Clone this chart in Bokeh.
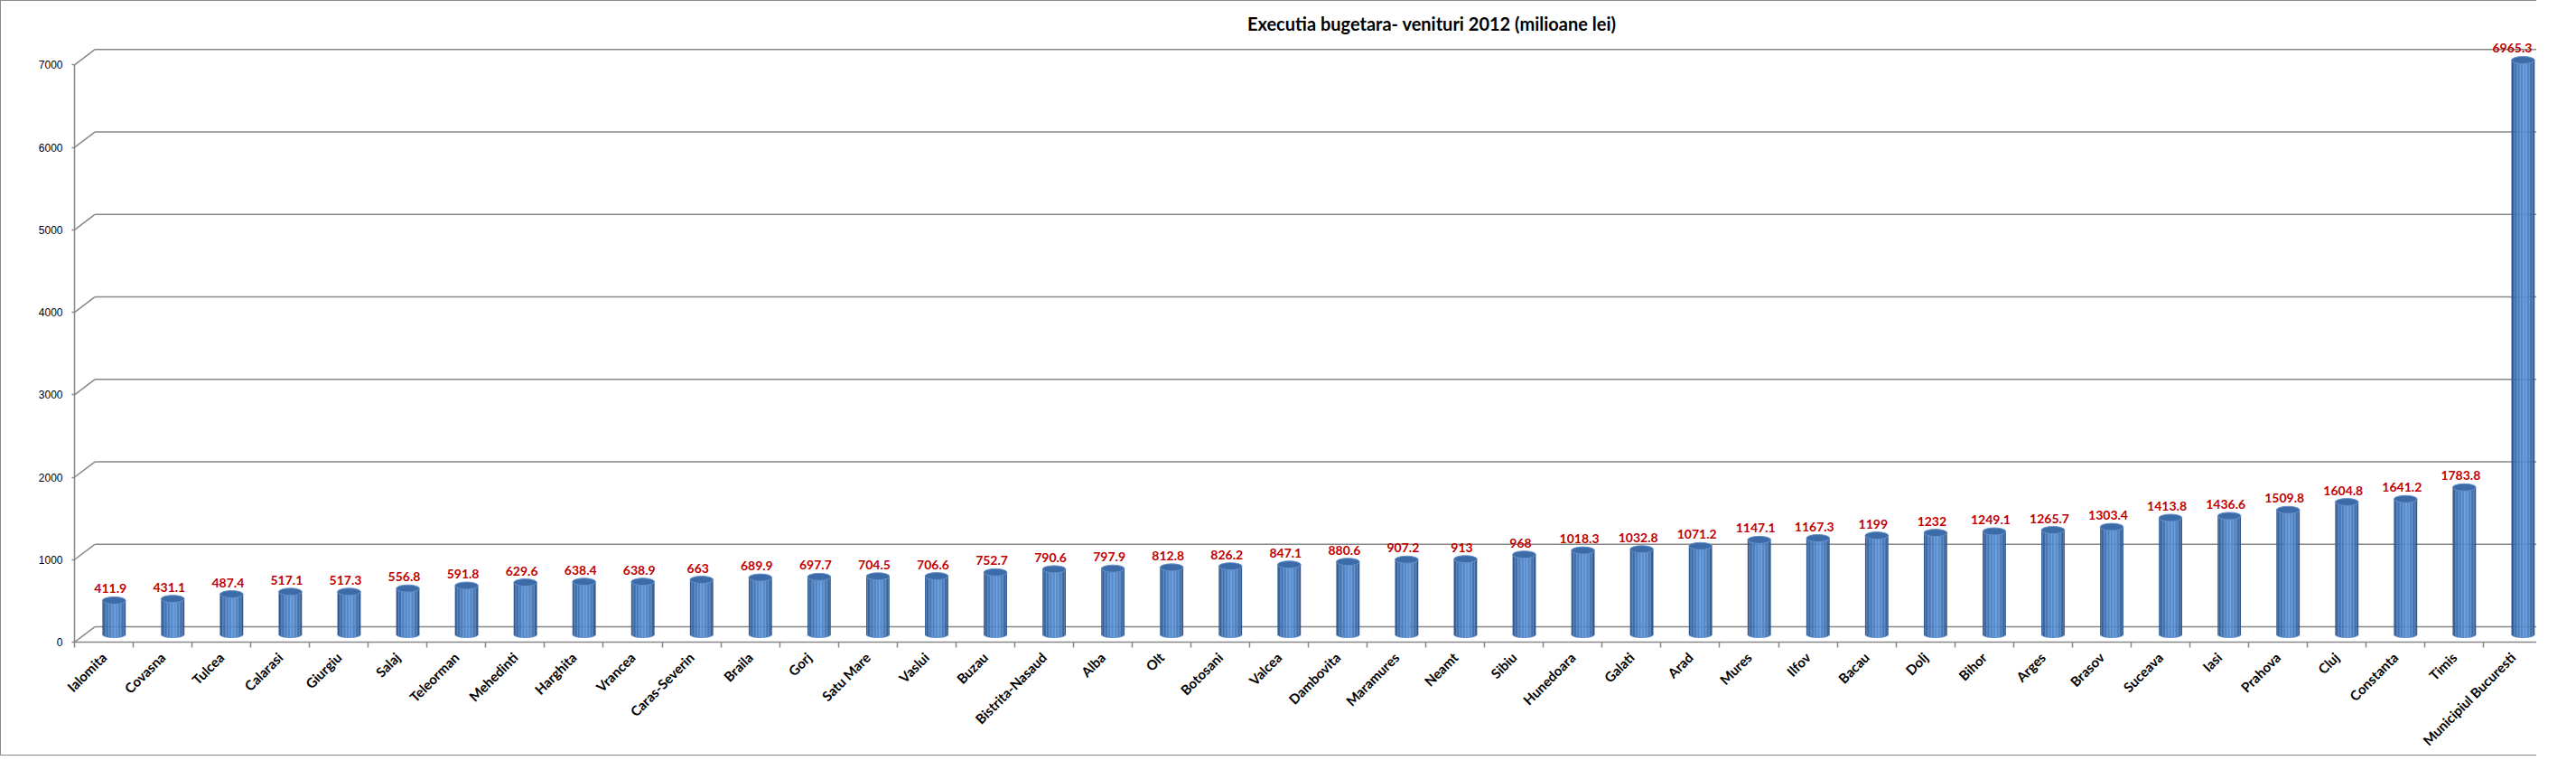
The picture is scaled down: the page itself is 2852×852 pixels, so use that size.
import numpy as np
from math import pi
from bokeh.plotting import figure
from bokeh.models import Range1d, FixedTicker, Label
from bokeh.embed import file_html
from bokeh.resources import INLINE
from bokeh.core.properties import value

# ---------------- data ----------------
judete = ["Ialomita", "Covasna", "Tulcea", "Calarasi", "Giurgiu", "Salaj", "Teleorman",
          "Mehedinti", "Harghita", "Vrancea", "Caras-Severin", "Braila", "Gorj", "Satu Mare",
          "Vaslui", "Buzau", "Bistrita-Nasaud", "Alba", "Olt", "Botosani", "Valcea",
          "Dambovita", "Maramures", "Neamt", "Sibiu", "Hunedoara", "Galati", "Arad", "Mures",
          "Ilfov", "Bacau", "Dolj", "Bihor", "Arges", "Brasov", "Suceava", "Iasi", "Prahova",
          "Cluj", "Constanta", "Timis", "Municipiul Bucuresti"]
venituri = [411.9, 431.1, 487.4, 517.1, 517.3, 556.8, 591.8, 629.6, 638.4, 638.9, 663,
            689.9, 697.7, 704.5, 706.6, 752.7, 790.6, 797.9, 812.8, 826.2, 847.1, 880.6,
            907.2, 913, 968, 1018.3, 1032.8, 1071.2, 1147.1, 1167.3, 1199, 1232, 1249.1,
            1265.7, 1303.4, 1413.8, 1436.6, 1509.8, 1604.8, 1641.2, 1783.8, 6965.3]
y_ticks = [0, 1000, 2000, 3000, 4000, 5000, 6000, 7000]
titlu = "Executia bugetara- venituri 2012 (milioane lei)"

# ---------------- geometry / style ----------------
X_END = 41.92          # visible category span (chart is cropped on the right)
PX_PER_Y = 0.0915      # pixels per data unit (vertical)
TOP_BORDER = 5
Y_TOP = (711 - TOP_BORDER) / PX_PER_Y
DEPTH_X = 0.345        # 3D depth offset (x, in category units)
DEPTH_Y = 186          # 3D depth offset (y, in data units)
BASE = DEPTH_Y / 2     # cylinders stand in the middle of the floor
BAR_W = 0.395
ELL_H = 8              # ellipse height in px
GRID = "#878787"

p = figure(width=2808, height=836, x_range=Range1d(0, X_END), y_range=Range1d(0, Y_TOP),
           output_backend="svg", toolbar_location=None, title=None,
           min_border_left=81, min_border_right=0, min_border_top=TOP_BORDER,
           min_border_bottom=125)
p.outline_line_color = None
p.xgrid.grid_line_color = None
p.ygrid.grid_line_color = None
p.background_fill_color = "white"
p.border_fill_color = "white"
p.styles = {"border-left": "1px solid #8a8a8a", "border-top": "1px solid #8a8a8a",
            "border-bottom": "1px solid #8a8a8a"}

n = len(judete)
centers = np.arange(n) + 0.5
bounds = list(np.arange(0, n + 1).astype(float))
vals = np.array(venituri, dtype=float)

# ---------------- axes ----------------
xa = p.xaxis[0]
xa.ticker = FixedTicker(ticks=list(centers), minor_ticks=bounds)
xa.major_label_overrides = {float(c): nm for c, nm in zip(centers, judete)}
xa.major_label_orientation = pi / 4
xa.major_tick_line_color = None
xa.major_tick_out = 6
xa.minor_tick_line_color = GRID
xa.minor_tick_out = 6
xa.minor_tick_in = 0
xa.minor_tick_line_width = 1.5
xa.axis_line_color = GRID
xa.axis_line_width = 1.5
xa.major_label_standoff = 8
xa.major_label_text_font = "Lato"
xa.major_label_text_font_style = "bold"
xa.major_label_text_font_size = "15px"
xa.major_label_text_color = "#000000"

ya = p.yaxis[0]
ya.ticker = FixedTicker(ticks=y_ticks, minor_ticks=[])
ya.bounds = (y_ticks[0], y_ticks[-1])
ya.axis_line_color = GRID
ya.axis_line_width = 1.5
ya.major_tick_line_color = GRID
ya.major_tick_line_width = 1.5
ya.major_tick_out = 3
ya.major_tick_in = 0
ya.minor_tick_line_color = None
ya.major_label_standoff = 10
ya.major_label_text_font = "Liberation Sans"
ya.major_label_text_font_size = "12px"
ya.major_label_text_font_style = "normal"
ya.major_label_text_color = "#000000"

# ---------------- 3D back wall grid + side connectors ----------------
yt = np.array(y_ticks, dtype=float)
p.segment(x0=[DEPTH_X] * len(yt), y0=yt + DEPTH_Y, x1=[X_END] * len(yt), y1=yt + DEPTH_Y,
          line_color=GRID, line_width=1.5)
p.segment(x0=[0] * len(yt), y0=yt, x1=[DEPTH_X] * len(yt), y1=yt + DEPTH_Y,
          line_color=GRID, line_width=1.5)

# ---------------- cylinders ----------------
def hex2rgb(h):
    h = h.lstrip("#")
    return np.array([int(h[i:i + 2], 16) for i in (0, 2, 4)], dtype=float)

stops = [(0.0, "#2C568C"), (0.12, "#3A69A7"), (0.35, "#4C83C6"), (0.58, "#5990D3"),
         (0.78, "#4B7DBE"), (0.92, "#3A659F"), (1.0, "#2A4E80")]

def shade(u):
    for (u0, c0), (u1, c1) in zip(stops[:-1], stops[1:]):
        if u0 <= u <= u1:
            t = (u - u0) / (u1 - u0)
            c = hex2rgb(c0) * (1 - t) + hex2rgb(c1) * t
            return "#%02x%02x%02x" % tuple(int(round(v)) for v in c)
    return stops[-1][1]

xc = centers + DEPTH_X / 2
N = 18
for k in range(N):
    u = (k + 0.5) / N
    ext = (ELL_H / 2) * np.sqrt(max(0.0, 1 - (2 * u - 1) ** 2)) / PX_PER_Y
    p.vbar(x=xc + (u - 0.5) * BAR_W, width=BAR_W / N * 1.08,
           bottom=BASE - ext, top=vals + BASE,
           fill_color=shade(u), line_color=None)

p.ellipse(x=xc, y=vals + BASE, width=BAR_W, height=ELL_H,
          width_units="data", height_units="screen",
          fill_color="#3C6BA8", line_color="#6591CB", line_width=1)

# ---------------- value labels ----------------
etichete = [f"{v:g}" for v in venituri]
x_off = [-4] * (n - 1) + [-12]   # keep the last label inside the (cropped) chart edge
p.text(x=xc, y=vals + BASE, text=etichete, text_font=value("Lato"),
       text_font_style="bold", text_font_size="14px", text_color="#C00000",
       text_align="center", text_baseline="middle", x_offset=x_off, y_offset=-13)

# ---------------- title ----------------
p.add_layout(Label(x=23.1, y=(719.3 - 33) / PX_PER_Y, text=titlu, text_font="Lato",
                   text_font_style="bold", text_font_size="20px", text_color="#000000",
                   text_align="center", text_baseline="alphabetic"))

open("out.html", "w").write(file_html(p, INLINE))
